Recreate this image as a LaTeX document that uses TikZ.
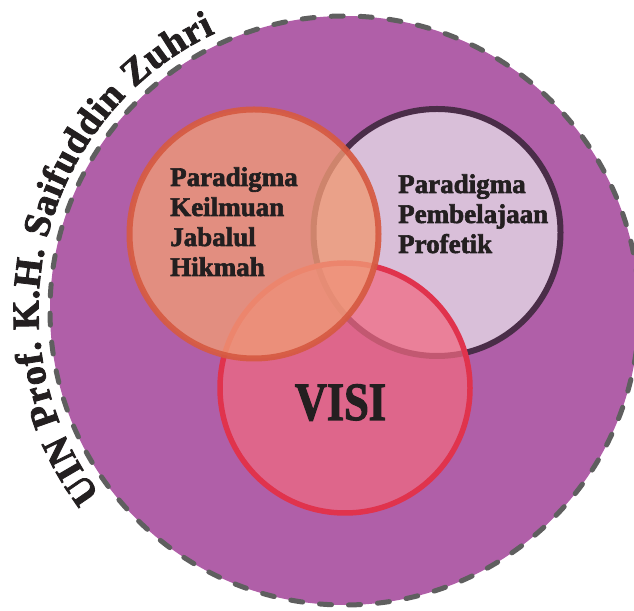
\documentclass[tikz,border=0pt]{standalone}
\usepackage{fontspec}
\setmainfont{Liberation Serif}
\newfontfamily\heavy[FakeBold=2.2]{Liberation Serif Bold}
\newfontfamily\visifont[FakeBold=2,FakeStretch=0.82]{Liberation Serif Bold}
\usetikzlibrary{decorations.text}
\definecolor{bgpurple}{HTML}{B05FA8}
\definecolor{dashgray}{HTML}{5F5F5F}
\definecolor{bfill}{HTML}{D9BFD9}
\definecolor{bstroke}{HTML}{4A2D48}
\definecolor{afill}{HTML}{EF9A76}
\definecolor{astroke}{HTML}{D65A42}
\definecolor{cfill}{HTML}{F16981}
\definecolor{cstroke}{HTML}{E0334D}
\definecolor{textblack}{HTML}{231F20}
\tikzset{
  ring/.style={circle, inner sep=0pt, outer sep=0pt, line width=6pt},
  label text/.style={anchor=base west, align=left, inner sep=0pt, text=textblack,
    font=\heavy\fontsize{27}{30}\selectfont}
}
\begin{document}
\begin{tikzpicture}[x=1pt,y=1pt]
\useasboundingbox (0,0) rectangle (634,610);
\coordinate (O) at (344.5,299.5);
% outer dashed circle
\node[circle, inner sep=0pt, minimum size=589pt, fill=bgpurple, draw=dashgray,
  line width=5pt, dash pattern=on 12pt off 17pt, line cap=round] (outer) at (O) {};
% circle B (Pembelajaan)
\node[ring, minimum size=247pt, fill=bfill, draw=bstroke] (circB) at (437,377.5) {};
% circle C (VISI)
\node[ring, minimum size=250pt, fill=cfill, fill opacity=0.72, draw=cstroke, line width=5.5pt] (circC) at (345,222) {};
% circle A (Keilmuan)
\node[ring, minimum size=249pt, fill=afill, fill opacity=0.8, draw=astroke, draw opacity=0.92] (circA) at (254,376) {};
% texts (base anchor = last line)
\node[label text] (textA) at (170,334) {Paradigma\\Keilmuan\\Jabalul\\Hikmah};
\node[label text] (textB) at (398,357) {Paradigma\\Pembelajaan\\Profetik};
\node[anchor=base, inner sep=0pt, text=textblack, font=\visifont\fontsize{54}{60}\selectfont] (visi) at (340.5,190) {VISI};
% arc text
\path[shift={(344.5,299.5)}, decorate,
  decoration={text along path, text align=fit to path,
    text={|\heavy\fontsize{38}{40}\selectfont\color{textblack}|UIN Prof. K.H. Saifuddin Zuhri}}]
  (217:306) arc[start angle=217, end angle=115, radius=306];
\end{tikzpicture}
\end{document}
